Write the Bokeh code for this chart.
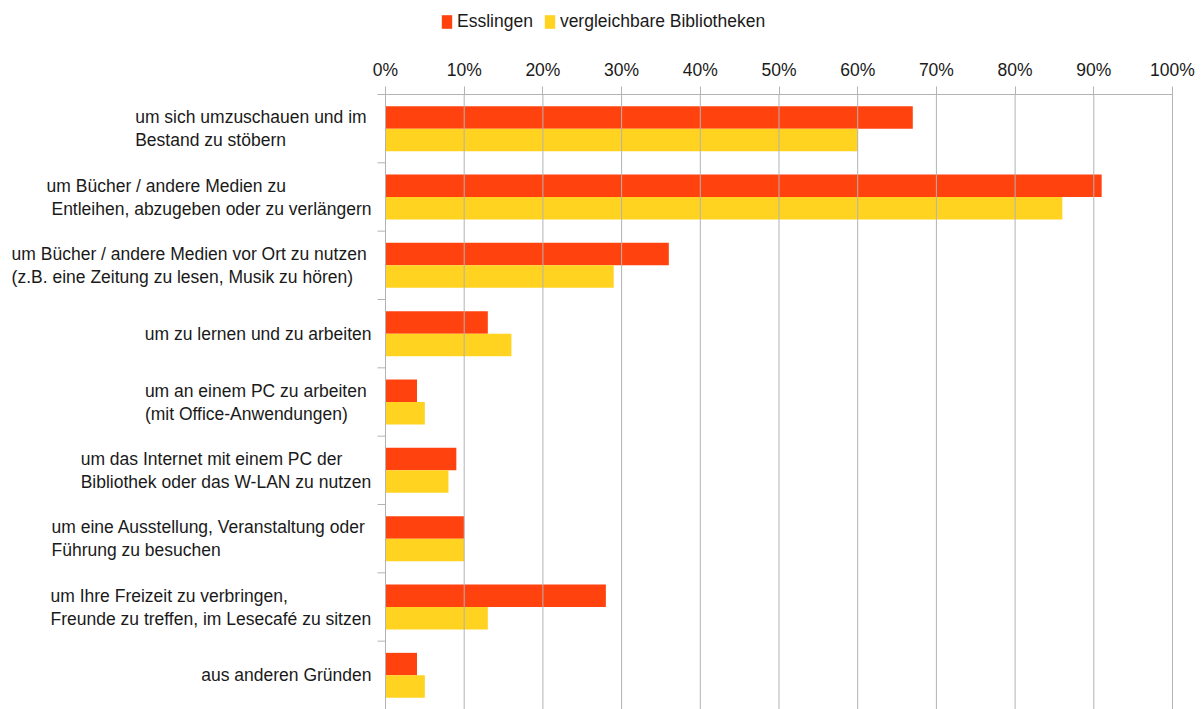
from bokeh.plotting import figure
from bokeh.models import (ColumnDataSource, Range1d, FixedTicker, Label, Legend, LegendItem)
from bokeh.transform import dodge
from bokeh.embed import file_html
from bokeh.resources import INLINE

# ---- data ----
categories = [
    ["um sich umzuschauen und im ", "Bestand zu stöbern"],
    ["um Bücher / andere Medien zu", " Entleihen, abzugeben oder zu verlängern"],
    ["um Bücher / andere Medien vor Ort zu nutzen ", "(z.B. eine Zeitung zu lesen, Musik zu hören)"],
    ["um zu lernen und zu arbeiten"],
    ["um an einem PC zu arbeiten ", "(mit Office-Anwendungen)"],
    ["um das Internet mit einem PC der", "Bibliothek oder das W-LAN zu nutzen"],
    ["um eine Ausstellung, Veranstaltung oder ", "Führung zu besuchen"],
    ["um Ihre Freizeit zu verbringen,", "Freunde zu treffen, im Lesecafé zu sitzen"],
    ["aus anderen Gründen"],
]
esslingen = [67, 91, 36, 13, 4, 9, 10, 28, 4]
vergleichbare = [60, 86, 29, 16, 5, 8, 10, 13, 5]
series_names = ["Esslingen", "vergleichbare Bibliotheken"]
tick_values = [0, 10, 20, 30, 40, 50, 60, 70, 80, 90, 100]
tick_labels = ["0%", "10%", "20%", "30%", "40%", "50%", "60%", "70%", "80%", "90%", "100%"]

RED = "#ff420e"
YELLOW = "#ffd320"
GRID = "#b3b3b3"
TXT = "#1a1a1a"
FONT = "Liberation Sans"
FS = 17.5

# Arial / Liberation Sans advance widths (1/1000 em)
W = {' ': 278, 'a': 556, 'b': 556, 'c': 500, 'd': 556, 'e': 556, 'f': 278, 'g': 556, 'h': 556,
     'i': 222, 'j': 222, 'k': 500, 'l': 222, 'm': 833, 'n': 556, 'o': 556, 'p': 556, 'q': 556,
     'r': 333, 's': 500, 't': 278, 'u': 556, 'v': 500, 'w': 722, 'x': 500, 'y': 500, 'z': 500,
     'A': 667, 'B': 667, 'C': 722, 'E': 667, 'F': 611, 'G': 778, 'I': 278, 'L': 556, 'M': 833,
     'N': 722, 'O': 778, 'P': 667, 'V': 667, 'W': 944, 'Z': 611,
     'ü': 556, 'ö': 556, 'ä': 556, 'é': 556, '/': 278, ',': 278, '.': 278, '(': 333, ')': 333,
     '-': 333}


def tw(s):
    return sum(W.get(ch, 556) for ch in s) * FS / 1000.0


n = len(categories)
centers = [n - 0.5 - i for i in range(n)]
src = ColumnDataSource(dict(y=centers, ess=esslingen, verg=vergleichbare))

# layout (pixels)
WIDTH, HEIGHT = 1204, 709
X0_PX, X100_PX = 385, 1172      # where 0% and 100% sit
TOP_PX = 94                     # top of plot area
ppu = (X100_PX - X0_PX) / 100.0       # pixels per percent
ppc = (HEIGHT - TOP_PX) / n           # pixels per category

p = figure(width=WIDTH, height=HEIGHT, output_backend="svg", toolbar_location=None,
           x_range=Range1d(-X0_PX / ppu, (WIDTH - X0_PX) / ppu),
           y_range=Range1d(0, n + TOP_PX / ppc),
           x_axis_location="above", y_axis_location=None,
           min_border_left=0, min_border_right=0, min_border_top=0, min_border_bottom=0)
p.outline_line_color = None

r1 = p.hbar(y=dodge("y", 0.1645), height=0.329, left=0, right="ess", source=src,
            fill_color=RED, line_color=None)
r2 = p.hbar(y=dodge("y", -0.1645), height=0.329, left=0, right="verg", source=src,
            fill_color=YELLOW, line_color=None)

# vertical grid lines inside the plot area only
p.xgrid.visible = False
p.ygrid.visible = False
p.segment(x0=tick_values, y0=[0] * len(tick_values), x1=tick_values, y1=[n] * len(tick_values),
          line_color=GRID, line_width=1)

# x axis (top), limited to 0..100 %, drawn at the top of the category area
xa = p.xaxis[0]
xa.fixed_location = n
xa.bounds = (tick_values[0], tick_values[-1])
xa.ticker = FixedTicker(ticks=tick_values)
xa.major_label_overrides = {v: l for v, l in zip(tick_values, tick_labels)}
xa.minor_tick_line_color = None
xa.major_tick_out = 8
xa.major_tick_in = 0
xa.major_tick_line_color = GRID
xa.axis_line_color = GRID
xa.major_label_standoff = 7
xa.major_label_text_font = FONT
xa.major_label_text_font_size = f"{FS}px"
xa.major_label_text_color = TXT

# left category axis: line at 0 % and outward ticks at category boundaries
bounds = list(range(1, n + 1))
tick_len = 8 / ppu
p.segment(x0=[0], y0=[0], x1=[0], y1=[n], line_color=GRID, line_width=1)
p.segment(x0=[-tick_len] * len(bounds), y0=bounds, x1=[0] * len(bounds), y1=bounds,
          line_color=GRID, line_width=1)

# category labels: left-aligned block, right-aligned next to the axis
gap = 14
line_sp = 23
for i, lines in enumerate(categories):
    block_w = max(tw(s) for s in lines)
    left = -(gap + block_w)
    k = len(lines)
    for j, s in enumerate(lines):
        stripped = s.lstrip(" ")
        lead = tw(s[:len(s) - len(stripped)])
        p.add_layout(Label(x=0, y=centers[i], x_units="data", y_units="data",
                           x_offset=left + lead, y_offset=((k - 1) / 2 - j) * line_sp,
                           text=stripped.rstrip(" "), text_align="left",
                           text_baseline="middle", text_font=FONT,
                           text_font_size=f"{FS}px", text_color=TXT))

legend = Legend(items=[LegendItem(label=series_names[0], renderers=[r1]),
                       LegendItem(label=series_names[1], renderers=[r2])],
                orientation="horizontal", location=(440, HEIGHT - 32),
                glyph_width=13, glyph_height=17, label_standoff=4, spacing=10,
                padding=0, margin=0, border_line_color=None, background_fill_alpha=0,
                label_text_font=FONT, label_text_font_size=f"{FS}px", label_text_color=TXT)
p.add_layout(legend)

open("out.html", "w").write(file_html(p, INLINE))
